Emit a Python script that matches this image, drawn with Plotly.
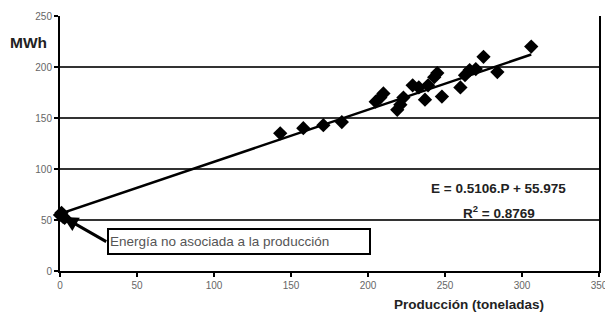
import plotly.graph_objects as go

# Data
produccion = [0, 1, 2, 3, 143, 158, 171, 183, 205, 208, 210, 219, 221, 223, 229, 233,
              237, 239, 243, 245, 248, 260, 263, 266, 270, 275, 284, 306]
energia = [55, 57, 53, 52, 135, 140, 143, 146, 166, 170, 174, 158, 163, 170, 182, 180,
           168, 182, 190, 194, 171, 180, 192, 197, 198, 210, 195, 220]

slope = 0.5106
intercept = 55.975
r2 = 0.8769
fit_x = [0, 306]
fit_y = [slope * v + intercept for v in fit_x]

x_ticks = [0, 50, 100, 150, 200, 250, 300, 350]
y_ticks = [0, 50, 100, 150, 200, 250]

FONT = "Liberation Sans, Arial, sans-serif"

fig = go.Figure()
fig.add_trace(go.Scatter(x=produccion, y=energia, mode="markers",
                         marker=dict(symbol="diamond", size=11, color="black"),
                         showlegend=False, cliponaxis=False))
fig.add_trace(go.Scatter(x=fit_x, y=fit_y, mode="lines",
                         line=dict(color="black", width=2.5), showlegend=False))

fig.update_layout(
    width=605, height=313,
    margin=dict(l=60, r=6, t=16, b=42, autoexpand=False),
    plot_bgcolor="white", paper_bgcolor="white",
    font=dict(family=FONT, color="#444", size=10),
    xaxis=dict(range=[0, 350], tickvals=x_ticks, showgrid=False, zeroline=False,
               showline=True, linecolor="black", linewidth=2, mirror=False,
               ticks="outside", ticklen=4, tickwidth=2, tickcolor="black",
               tickfont=dict(size=10, color="#666"), automargin=False,
               ticklabeloverflow="allow"),
    yaxis=dict(range=[0, 250], tickvals=y_ticks, showgrid=True, gridcolor="#333",
               gridwidth=1.8, zeroline=False, showline=True, linecolor="black",
               linewidth=2, mirror=True, ticks="outside", ticklen=4, tickwidth=2,
               tickcolor="black", tickfont=dict(size=10, color="#666"),
               automargin=False),
)

# Arrow pointing to the intercept cluster
fig.add_annotation(x=2, y=53, ax=31, ay=28, xref="x", yref="y", axref="x", ayref="y",
                   text="", showarrow=True, arrowhead=2, arrowsize=1, arrowwidth=3,
                   arrowcolor="black")
# Label box
fig.add_annotation(x=30.5, y=29, xref="x", yref="y", xanchor="left", yanchor="middle",
                   text="Energía no asociada a la producción", showarrow=False,
                   font=dict(family=FONT, size=13.5, color="#555"),
                   bordercolor="black", borderwidth=2, bgcolor="white",
                   width=258, height=21, align="left", borderpad=1)
# Equation
fig.add_annotation(x=285, y=80.5, xref="x", yref="y", showarrow=False,
                   xanchor="center", yanchor="middle",
                   text="<b>E = 0.5106.P + 55.975</b>",
                   font=dict(family=FONT, size=13.5, color="#222"))
fig.add_annotation(x=285, y=58, xref="x", yref="y", showarrow=False,
                   xanchor="center", yanchor="middle",
                   text=f"<b>R<sup>2</sup> = {r2}</b>",
                   font=dict(family=FONT, size=13.5, color="#222"))
# Axis titles
fig.add_annotation(x=-0.059, y=0.898, xref="x domain", yref="y domain", showarrow=False,
                   xanchor="center", yanchor="middle",
                   text="<b>MWh</b>", font=dict(family=FONT, size=15.5, color="#222"))
fig.add_annotation(x=0.759, y=-0.133, xref="x domain", yref="y domain", showarrow=False,
                   xanchor="center", yanchor="middle",
                   text="<b>Producción (toneladas)</b>",
                   font=dict(family=FONT, size=13.5, color="#222"))

fig.write_html("out.html", config={"displayModeBar": False},
               post_script="document.body.style.margin='0';document.body.style.overflow='hidden';")
